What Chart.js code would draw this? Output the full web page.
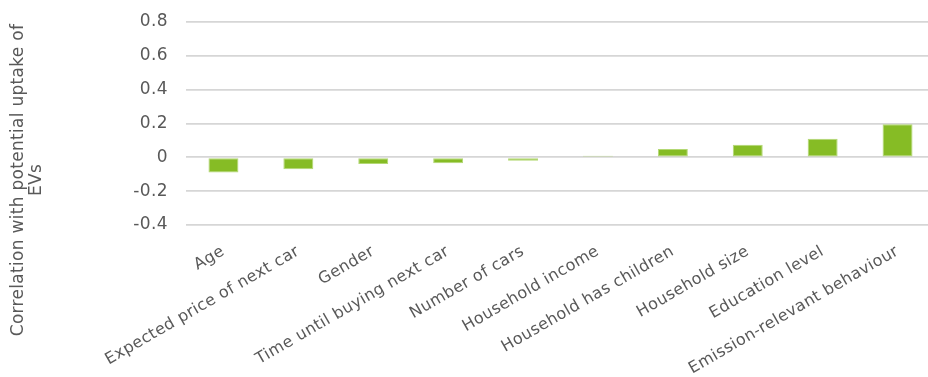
<!DOCTYPE html>
<html>
<head>
<meta charset="utf-8">
<script src="https://cdn.jsdelivr.net/npm/chart.js@4/dist/chart.umd.min.js"></script>
<style>
  html, body { margin: 0; padding: 0; background: #fff; overflow: hidden; }
  #wrap { width: 928px; height: 377px; overflow: hidden; }
  #box { width: 935px; height: 377px; }
</style>
</head>
<body>
<div id="wrap"><div id="box"><canvas id="corrChart"></canvas></div></div>
<script>
const factors = [
  "Age",
  "Expected price of next car",
  "Gender",
  "Time until buying next car",
  "Number of cars",
  "Household income",
  "Household has children",
  "Household size",
  "Education level",
  "Emission-relevant behaviour"
];
const correlations = [-0.09, -0.07, -0.04, -0.035, -0.02, 0.01, 0.05, 0.074, 0.11, 0.195];
const yTicks = [-0.4, -0.2, 0, 0.2, 0.4, 0.6, 0.8];
const yTitle = ["Correlation with potential uptake of", "EVs"];

const FONT = "'DejaVu Sans', Verdana, sans-serif";
const TEXT = "#595959";

// a little extra tracking so the text runs as wide as Verdana does
const tracking = {
  id: "tracking",
  beforeUpdate(chart) { chart.ctx.letterSpacing = "0.4px"; },
  beforeDraw(chart) { chart.ctx.letterSpacing = "0.4px"; }
};

// category names, slanted 30 degrees, each ending under its bar
const slantLabels = {
  id: "slantLabels",
  afterDraw(chart) {
    const ctx = chart.ctx;
    const xs = chart.scales.x;
    const y = chart.chartArea.bottom + 29;
    ctx.save();
    ctx.font = "16px " + FONT;
    ctx.letterSpacing = "0.4px";
    ctx.fillStyle = TEXT;
    ctx.textAlign = "left";
    ctx.textBaseline = "alphabetic";
    factors.forEach((name, i) => {
      const x = xs.getPixelForTick(i) + 2;
      const w = ctx.measureText(name).width;
      ctx.save();
      ctx.translate(x, y);
      ctx.rotate(-Math.PI / 6);
      ctx.fillText(name, -w, 0);
      ctx.restore();
    });
    ctx.restore();
  }
};

// rotated two-line title, centred on the canvas height
const sideTitle = {
  id: "sideTitle",
  afterDraw(chart) {
    const ctx = chart.ctx;
    ctx.save();
    ctx.translate(28, 180);
    ctx.rotate(-Math.PI / 2);
    ctx.letterSpacing = "0.3px";
    ctx.font = "17px " + FONT;
    ctx.fillStyle = TEXT;
    ctx.textAlign = "center";
    ctx.textBaseline = "middle";
    ctx.fillText(yTitle[0], 0, -9);
    ctx.fillText(yTitle[1], 0, 9);
    ctx.restore();
  }
};

new Chart(document.getElementById("corrChart"), {
  type: "bar",
  data: {
    labels: factors,
    datasets: [{
      data: correlations,
      backgroundColor: "#86bc25",
      borderColor: "#b3d874",
      borderWidth: 1,
      borderSkipped: false,
      categoryPercentage: 1,
      barPercentage: 0.4
    }]
  },
  options: {
    responsive: true,
    maintainAspectRatio: false,
    animation: false,
    layout: { padding: { top: 22, right: 0, left: 0, bottom: 0 } },
    plugins: {
      legend: { display: false },
      tooltip: { enabled: false }
    },
    scales: {
      x: {
        grid: { display: false },
        border: { display: false },
        ticks: { display: false },
        afterFit(scale) { scale.height = 377 - 225; }
      },
      y: {
        min: -0.4,
        max: 0.8,
        afterBuildTicks(scale) { scale.ticks = yTicks.map(v => ({ value: v })); },
        // invisible tick marks keep the gap between numbers and grid
        grid: { color: "#d6d6d6", lineWidth: 1.7, drawTicks: true, tickLength: 18, tickColor: "rgba(0,0,0,0)" },
        border: { display: false },
        ticks: {
          color: TEXT,
          font: { family: FONT, size: 17 },
          padding: 0,
          callback: v => String(Math.round(v * 10) / 10)
        },
        afterFit(scale) { scale.width = 186; }
      }
    }
  },
  plugins: [tracking, slantLabels, sideTitle]
});
</script>
</body>
</html>
